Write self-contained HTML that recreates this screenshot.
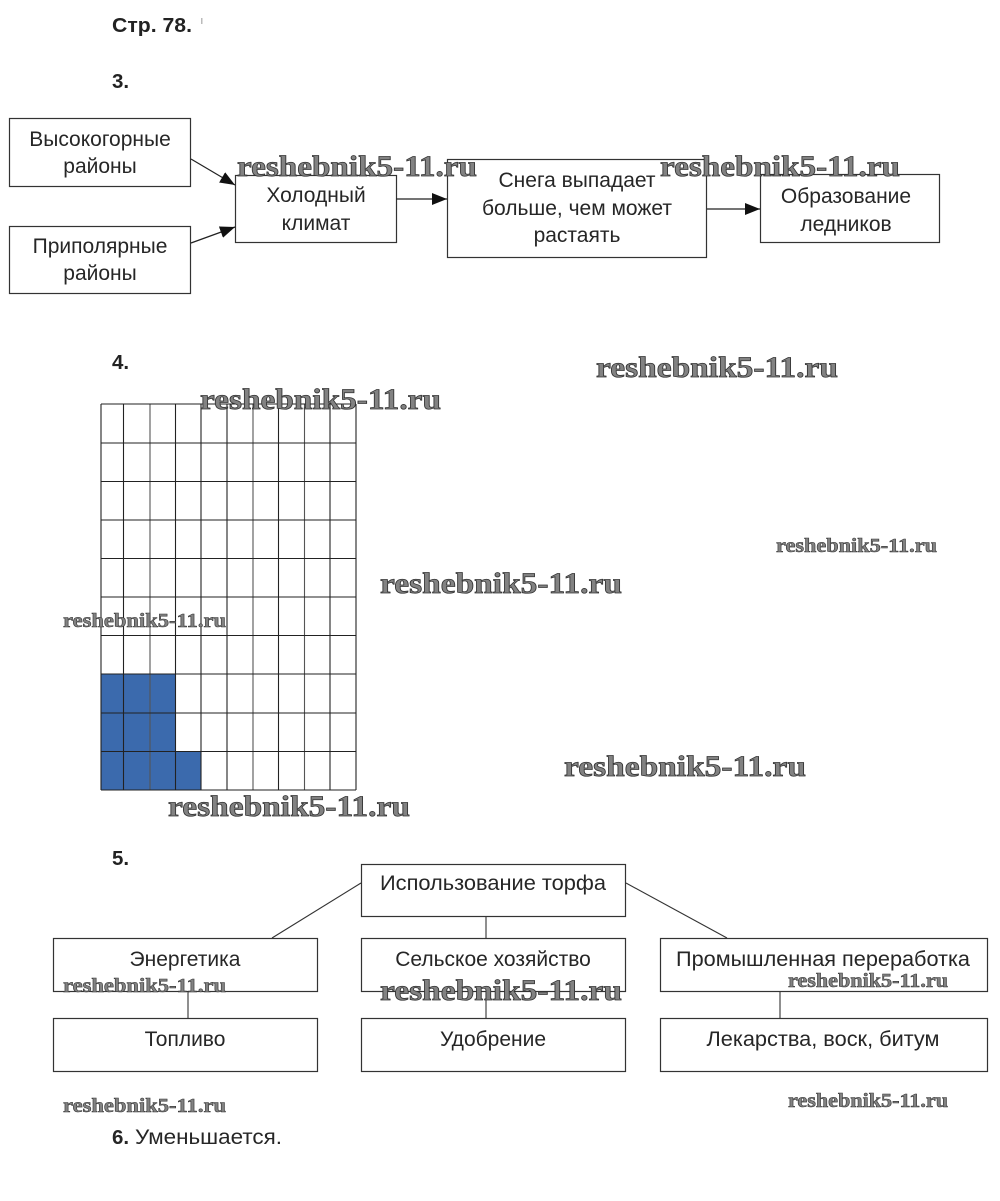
<!DOCTYPE html>
<html>
<head>
<meta charset="utf-8">
<style>
html,body{margin:0;padding:0;background:#fff;}
svg{display:block;}
.t{font-family:"Liberation Sans","DejaVu Sans",sans-serif;font-size:21px;fill:#262626;}
.h{font-family:"Liberation Sans","DejaVu Sans",sans-serif;font-size:20.5px;font-weight:bold;fill:#222;}
.wb{font-family:"Liberation Serif","DejaVu Serif",serif;font-weight:bold;font-size:30px;fill:#828282;stroke:#333;stroke-width:0.8;}
.ws{font-family:"Liberation Serif","DejaVu Serif",serif;font-weight:bold;font-size:19.5px;fill:#828282;stroke:#333;stroke-width:0.55;}
</style>
</head>
<body>
<svg width="1000" height="1201" viewBox="0 0 1000 1201" xmlns="http://www.w3.org/2000/svg">
<defs>
<marker id="ar" markerUnits="userSpaceOnUse" markerWidth="16" markerHeight="12" refX="15" refY="6" orient="auto">
<path d="M0,0 L15,6 L0,12 Z" fill="#111"/>
</marker>
</defs>

<!-- headings -->
<text class="h" x="112" y="32" textLength="80" lengthAdjust="spacingAndGlyphs">Стр. 78.</text>
<rect x="201" y="18" width="1.5" height="6" fill="#bbb"/>
<text class="h" x="112" y="88">3.</text>
<text class="h" x="112" y="369">4.</text>
<text class="h" x="112" y="865">5.</text>
<text x="112" y="1144" class="t"><tspan font-weight="bold" style="font-size:20.5px">6.</tspan> <tspan textLength="147" lengthAdjust="spacingAndGlyphs">Уменьшается.</tspan></text>

<!-- Section 3 -->
<g fill="#fff" stroke="#333" stroke-width="1.2">
<rect x="9.5" y="118.5" width="181" height="68"/>
<rect x="9.5" y="226.5" width="181" height="67"/>
<rect x="235.5" y="175.5" width="161" height="67"/>
<rect x="447.5" y="159.5" width="259" height="98"/>
<rect x="760.5" y="174.5" width="179" height="68"/>
</g>
<g stroke="#222" stroke-width="1.2" fill="none">
<line x1="191" y1="159" x2="235" y2="185" marker-end="url(#ar)"/>
<line x1="191" y1="243" x2="235" y2="227" marker-end="url(#ar)"/>
<line x1="396" y1="199" x2="447" y2="199" marker-end="url(#ar)"/>
<line x1="707" y1="209" x2="760" y2="209" marker-end="url(#ar)"/>
</g>
<g class="t" text-anchor="middle">
<text x="100" y="146">Высокогорные</text>
<text x="100" y="173">районы</text>
<text x="100" y="253">Приполярные</text>
<text x="100" y="280">районы</text>
<text x="316" y="202">Холодный</text>
<text x="316" y="230">климат</text>
<text x="577" y="187">Снега выпадает</text>
<text x="577" y="215">больше, чем может</text>
<text x="577" y="242">растаять</text>
<text x="846" y="203">Образование</text>
<text x="846" y="231">ледников</text>
</g>

<!-- Section 4 grid -->
<g fill="#3b6aad">
<rect x="101" y="674" width="75" height="116"/>
<rect x="175" y="752" width="26" height="38"/>
</g>
<g stroke="#222" stroke-width="1.1">
<line x1="101" y1="404" x2="101" y2="790"/>
<line x1="123.5" y1="404" x2="123.5" y2="790"/>
<line x1="150" y1="404" x2="150" y2="790" stroke="#555"/>
<line x1="175.5" y1="404" x2="175.5" y2="790"/>
<line x1="201" y1="404" x2="201" y2="790"/>
<line x1="227" y1="404" x2="227" y2="790"/>
<line x1="253" y1="404" x2="253" y2="790" stroke="#555"/>
<line x1="278.5" y1="404" x2="278.5" y2="790"/>
<line x1="304.5" y1="404" x2="304.5" y2="790" stroke="#555"/>
<line x1="330" y1="404" x2="330" y2="790"/>
<line x1="356" y1="404" x2="356" y2="790"/>
<line x1="101" y1="404" x2="356" y2="404"/>
<line x1="101" y1="443" x2="356" y2="443"/>
<line x1="101" y1="481.5" x2="356" y2="481.5"/>
<line x1="101" y1="520" x2="356" y2="520"/>
<line x1="101" y1="558.5" x2="356" y2="558.5"/>
<line x1="101" y1="597" x2="356" y2="597"/>
<line x1="101" y1="635.5" x2="356" y2="635.5"/>
<line x1="101" y1="674" x2="356" y2="674"/>
<line x1="101" y1="713" x2="356" y2="713"/>
<line x1="101" y1="751.5" x2="356" y2="751.5"/>
<line x1="101" y1="790" x2="356" y2="790"/>
</g>

<!-- Section 5 -->
<g stroke="#333" stroke-width="1.1" fill="none">
<line x1="361" y1="883" x2="272" y2="938"/>
<line x1="626" y1="883" x2="727" y2="938"/>
<line x1="486" y1="916" x2="486" y2="938"/>
<line x1="188" y1="991" x2="188" y2="1018"/>
<line x1="486" y1="991" x2="486" y2="1018"/>
<line x1="780" y1="991" x2="780" y2="1018"/>
</g>
<g fill="#fff" stroke="#333" stroke-width="1.2">
<rect x="361.5" y="864.5" width="264" height="52"/>
<rect x="53.5" y="938.5" width="264" height="53"/>
<rect x="361.5" y="938.5" width="264" height="53"/>
<rect x="660.5" y="938.5" width="327" height="53"/>
<rect x="53.5" y="1018.5" width="264" height="53"/>
<rect x="361.5" y="1018.5" width="264" height="53"/>
<rect x="660.5" y="1018.5" width="327" height="53"/>
</g>
<g class="t" text-anchor="middle">
<text x="493" y="890" textLength="226" lengthAdjust="spacingAndGlyphs">Использование торфа</text>
<text x="185" y="966">Энергетика</text>
<text x="493" y="966">Сельское хозяйство</text>
<text x="823" y="966" textLength="294" lengthAdjust="spacingAndGlyphs">Промышленная переработка</text>
<text x="185" y="1046">Топливо</text>
<text x="493" y="1046">Удобрение</text>
<text x="823" y="1046" textLength="233" lengthAdjust="spacingAndGlyphs">Лекарства, воск, битум</text>
</g>

<!-- watermarks -->
<g>
<text class="wb" x="237" y="176" textLength="240" lengthAdjust="spacingAndGlyphs">reshebnik5-11.ru</text>
<text class="wb" x="660" y="176" textLength="240" lengthAdjust="spacingAndGlyphs">reshebnik5-11.ru</text>
<text class="wb" x="596" y="377" textLength="242" lengthAdjust="spacingAndGlyphs">reshebnik5-11.ru</text>
<text class="wb" x="200" y="409" textLength="241" lengthAdjust="spacingAndGlyphs">reshebnik5-11.ru</text>
<text class="ws" x="776" y="552" textLength="161" lengthAdjust="spacingAndGlyphs">reshebnik5-11.ru</text>
<text class="wb" x="380" y="593" textLength="242" lengthAdjust="spacingAndGlyphs">reshebnik5-11.ru</text>
<text class="ws" x="63" y="627" textLength="163" lengthAdjust="spacingAndGlyphs">reshebnik5-11.ru</text>
<text class="wb" x="564" y="776" textLength="242" lengthAdjust="spacingAndGlyphs">reshebnik5-11.ru</text>
<text class="wb" x="168" y="816" textLength="242" lengthAdjust="spacingAndGlyphs">reshebnik5-11.ru</text>
<text class="ws" x="63" y="992" textLength="163" lengthAdjust="spacingAndGlyphs">reshebnik5-11.ru</text>
<text class="wb" x="380" y="1000" textLength="242" lengthAdjust="spacingAndGlyphs">reshebnik5-11.ru</text>
<text class="ws" x="788" y="987" textLength="160" lengthAdjust="spacingAndGlyphs">reshebnik5-11.ru</text>
<text class="ws" x="63" y="1112" textLength="163" lengthAdjust="spacingAndGlyphs">reshebnik5-11.ru</text>
<text class="ws" x="788" y="1107" textLength="160" lengthAdjust="spacingAndGlyphs">reshebnik5-11.ru</text>
</g>
</svg>
</body>
</html>
